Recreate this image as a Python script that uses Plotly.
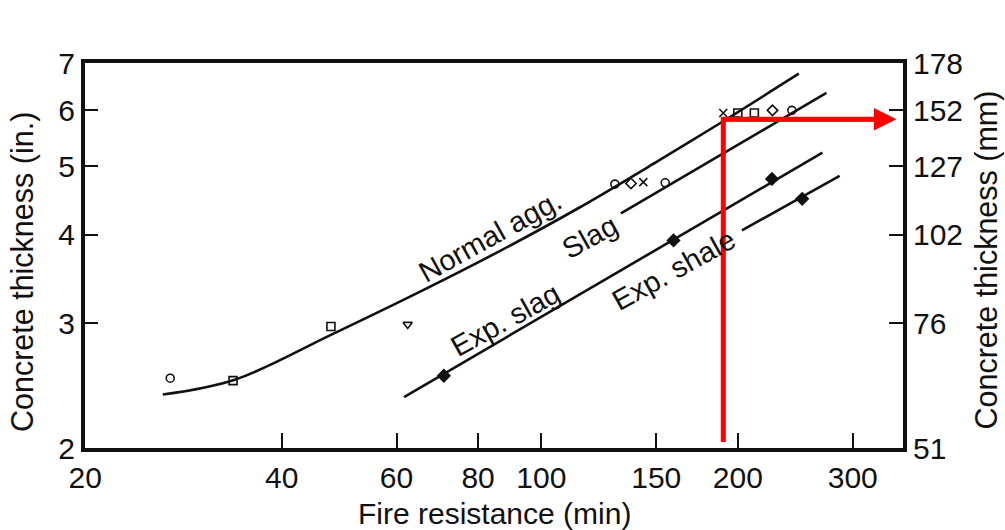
import numpy as np
import plotly.graph_objects as go

# ---- data ----
normal_x = [26.3, 34.0, 47.6, 62.8, 85.6, 113.7, 151, 187, 248]
normal_y = [2.38, 2.50, 2.89, 3.27, 3.78, 4.36, 5.09, 5.74, 6.76]

slag_x = [132.4, 273.4]
slag_y = [4.29, 6.35]

expslag_x = [61.6, 269.6]
expslag_y = [2.36, 5.23]

expshale_x = [202.9, 286.4]
expshale_y = [4.06, 4.85]

# test points (open symbols = normal agg / slag, filled = expanded)
pts_circle_x = [27.0, 129.6, 154.8, 242]
pts_circle_y = [2.51, 4.72, 4.74, 6.0]
pts_square_x = [33.7, 47.6, 200, 212]
pts_square_y = [2.49, 2.97, 5.95, 5.95]
pts_tri_x = [62.4]
pts_tri_y = [2.99]
pts_diamond_open_x = [137.2, 226]
pts_diamond_open_y = [4.73, 6.0]
pts_cross_x = [143.3, 190]
pts_cross_y = [4.75, 5.95]
pts_filled_x = [70.9, 159.4, 225.6, 251]
pts_filled_y = [2.53, 3.93, 4.80, 4.50]

# red reading line
red_x = 190
red_y0 = 2.04
red_y = 5.83
red_tip_x = 350

x_ticks = [20, 40, 60, 80, 100, 150, 200, 300]
y_ticks_in = [2, 3, 4, 5, 6, 7]
y_ticks_mm = ["51", "76", "102", "127", "152", "178"]

x_title = "Fire resistance (min)"
y_title_left = "Concrete thickness (in.)"
y_title_right = "Concrete thickness (mm)"

labels = [
    ("Normal agg.", 83.5, 3.99),
    ("Slag", 118.6, 3.97),
    ("Exp. slag", 88.0, 3.03),
    ("Exp. shale", 159.3, 3.57),
]

FONT = "Liberation Sans, Arial, sans-serif"
LC = "#111111"

fig = go.Figure()

for xs, ys in [(normal_x, normal_y), (slag_x, slag_y), (expslag_x, expslag_y), (expshale_x, expshale_y)]:
    fig.add_trace(go.Scatter(x=xs, y=ys, mode="lines",
                             line=dict(color=LC, width=2.6, shape="spline", smoothing=1.0),
                             showlegend=False, hoverinfo="skip"))

mk = dict(color=LC, size=8, line=dict(color=LC, width=1.6))
fig.add_trace(go.Scatter(x=pts_circle_x, y=pts_circle_y, mode="markers",
                         marker=dict(symbol="circle-open", **mk), showlegend=False))
fig.add_trace(go.Scatter(x=pts_square_x, y=pts_square_y, mode="markers",
                         marker=dict(symbol="square-open", **mk), showlegend=False))
fig.add_trace(go.Scatter(x=pts_tri_x, y=pts_tri_y, mode="markers",
                         marker=dict(symbol="triangle-down-open", **mk), showlegend=False))
fig.add_trace(go.Scatter(x=pts_diamond_open_x, y=pts_diamond_open_y, mode="markers",
                         marker=dict(symbol="diamond-open", **mk), showlegend=False))
fig.add_trace(go.Scatter(x=pts_cross_x, y=pts_cross_y, mode="markers",
                         marker=dict(symbol="x-thin-open", **mk), showlegend=False))
fig.add_trace(go.Scatter(x=pts_filled_x, y=pts_filled_y, mode="markers",
                         marker=dict(symbol="diamond", color=LC, size=11), showlegend=False))

# red reading line (vertical part and start of horizontal part)
fig.add_trace(go.Scatter(x=[red_x, red_x, red_tip_x * 0.94], y=[red_y0, red_y, red_y], mode="lines",
                         line=dict(color="#ff0000", width=5), showlegend=False, hoverinfo="skip"))

# invisible trace on the right axis so it renders
fig.add_trace(go.Scatter(x=[100], y=[4], yaxis="y2", mode="markers",
                         marker=dict(opacity=0), showlegend=False, hoverinfo="skip"))

for text, lx, ly in labels:
    fig.add_annotation(x=np.log10(lx), y=np.log10(ly), xref="x", yref="y", text=text,
                       showarrow=False, textangle=-29,
                       font=dict(family=FONT, size=29, color=LC))

fig.add_annotation(x=np.log10(red_tip_x), y=np.log10(red_y), xref="x", yref="y",
                   ax=np.log10(red_x), ay=np.log10(red_y), axref="x", ayref="y",
                   text="", showarrow=True, arrowhead=2, arrowsize=1, arrowwidth=4.5,
                   arrowcolor="#ff0000", standoff=0)

# axis titles
fig.add_annotation(x=0.5, y=-0.169, xref="paper", yref="paper", text=x_title,
                   showarrow=False, xanchor="center", yanchor="middle",
                   font=dict(family=FONT, size=30, color=LC))
fig.add_annotation(x=-0.077, y=0.457, xref="paper", yref="paper", text=y_title_left,
                   showarrow=False, xanchor="center", yanchor="middle", textangle=-90,
                   font=dict(family=FONT, size=30.5, color=LC))
fig.add_annotation(x=1.102, y=0.488, xref="paper", yref="paper", text=y_title_right,
                   showarrow=False, xanchor="center", yanchor="middle", textangle=-90,
                   font=dict(family=FONT, size=30.5, color=LC))

yr = [np.log10(2), np.log10(7)]
fig.update_layout(
    width=1005, height=530,
    margin=dict(l=85, r=102, t=63, b=82),
    paper_bgcolor="white", plot_bgcolor="white",
    font=dict(family=FONT, size=30, color=LC),
    xaxis=dict(type="log", range=[1.3008, 2.5541], tickvals=x_ticks,
               ticktext=[str(v) for v in x_ticks],
               ticks="inside", ticklen=15, tickwidth=2, tickcolor=LC,
               showline=True, linewidth=4, linecolor=LC, mirror=True,
               showgrid=False, zeroline=False, automargin=False),
    yaxis=dict(type="log", range=yr, tickvals=y_ticks_in,
               ticktext=[str(v) for v in y_ticks_in],
               ticks="inside", ticklen=13, tickwidth=2, tickcolor=LC,
               showline=True, linewidth=4, linecolor=LC, mirror=True,
               showgrid=False, zeroline=False, automargin=False),
    yaxis2=dict(type="log", range=yr, overlaying="y", side="right",
                tickvals=y_ticks_in, ticktext=y_ticks_mm,
                ticks="inside", ticklen=14, tickwidth=2, tickcolor=LC,
                showline=True, linewidth=4, linecolor=LC,
                showgrid=False, zeroline=False, automargin=False),
)

fig.write_html("out.html", config={"displayModeBar": False},
               post_script="document.body.style.margin='0px';")
